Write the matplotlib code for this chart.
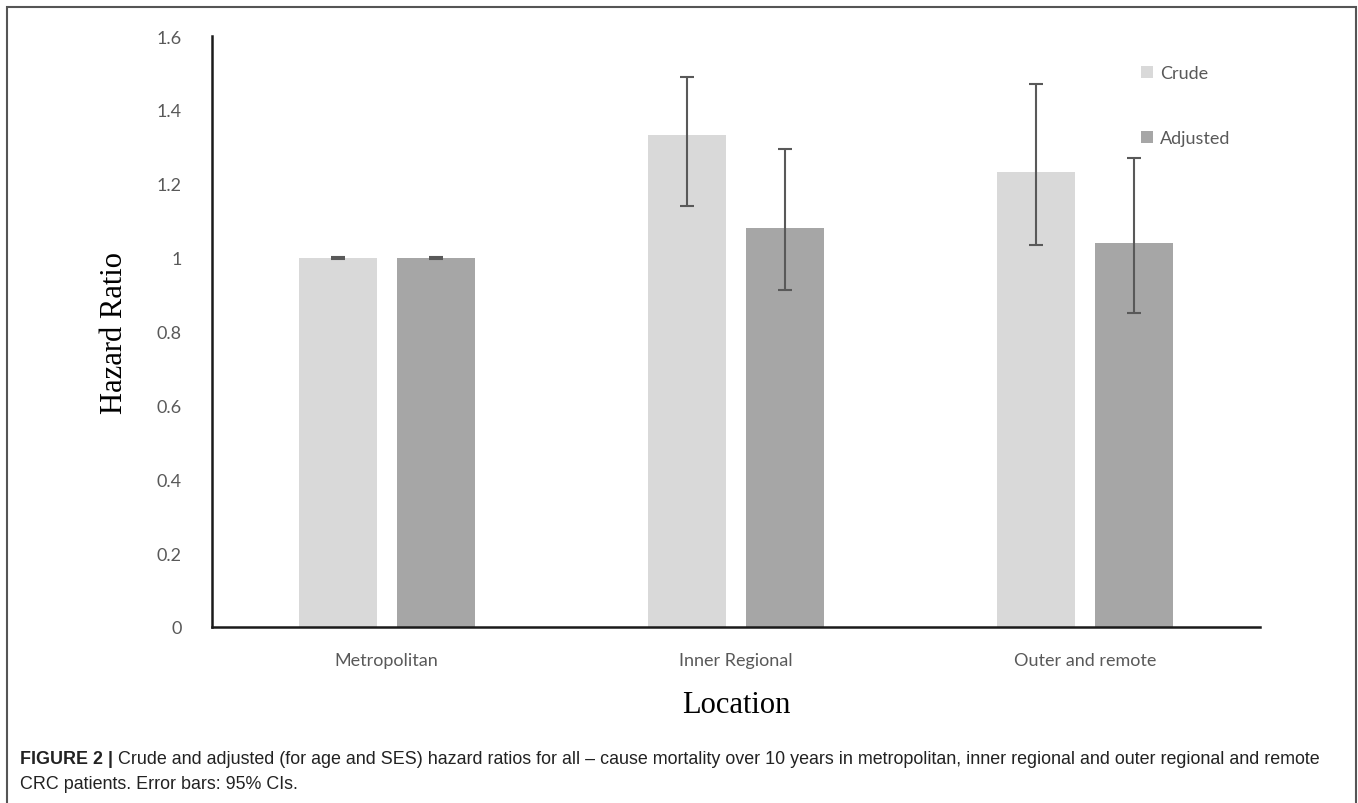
import matplotlib
matplotlib.use("Agg")
import matplotlib.pyplot as plt
import numpy as np
from matplotlib.patches import Rectangle

locations = ["Metropolitan", "Inner Regional", "Outer and remote"]
crude = [1.0, 1.333, 1.233]
crude_lo = [0.997, 1.14, 1.033]
crude_hi = [1.003, 1.49, 1.47]
adjusted = [1.0, 1.081, 1.04]
adj_lo = [0.997, 0.913, 0.85]
adj_hi = [1.003, 1.293, 1.27]

W, H = 1358, 804
fig = plt.figure(figsize=(W / 100, H / 100), dpi=100)
ax = fig.add_axes([212 / W, 1 - 628 / H, (1260 - 212) / W, (628 - 37) / H])

x = np.arange(len(locations))
bw = 0.223
off = 0.14
grey_txt = "#595959"
err_kw = dict(ecolor="#595959", elinewidth=1.5, capsize=5, capthick=1.5)

crude = np.array(crude)
adjusted = np.array(adjusted)
ax.bar(x - off, crude, bw, color="#d9d9d9", label="Crude",
       yerr=[crude - np.array(crude_lo), np.array(crude_hi) - crude], error_kw=err_kw)
ax.bar(x + off, adjusted, bw, color="#a6a6a6", label="Adjusted",
       yerr=[adjusted - np.array(adj_lo), np.array(adj_hi) - adjusted], error_kw=err_kw)

ax.set_xlim(-0.5, 2.5)
ax.set_ylim(0, 1.6)
ax.set_yticks(np.arange(0, 1.61, 0.2))
ax.set_yticklabels(["0", "0.2", "0.4", "0.6", "0.8", "1", "1.2", "1.4", "1.6"])
ax.set_xticks(x)
ax.set_xticklabels(locations)
for lab in ax.get_xticklabels() + ax.get_yticklabels():
    lab.set_fontfamily("Lato")
    lab.set_fontsize(13)
    lab.set_color(grey_txt)
ax.tick_params(length=0)
ax.tick_params(axis="x", pad=18)
ax.tick_params(axis="y", pad=22)
for s in ["top", "right"]:
    ax.spines[s].set_visible(False)
for s in ["left", "bottom"]:
    ax.spines[s].set_linewidth(1.8)
    ax.spines[s].set_color("#1a1a1a")

ax.set_xlabel("Location", family="Liberation Serif", fontsize=22, labelpad=16)
ax.set_ylabel("Hazard Ratio", family="Liberation Serif", fontsize=22, labelpad=20)

leg = ax.legend(loc="upper left", bbox_to_anchor=(1125 / W, 1 - 50 / H),
                bbox_transform=fig.transFigure, frameon=False,
                prop={"family": "Lato", "size": 13}, handlelength=0.65,
                handleheight=0.65, handletextpad=0.4, labelspacing=2.7)
for t in leg.get_texts():
    t.set_color(grey_txt)

# outer frame
fig.patches.append(Rectangle((7 / W, -0.02), (1356 - 7) / W, 1.02 - 8 / H,
                             transform=fig.transFigure, fill=False,
                             edgecolor="#555555", linewidth=1.5))

# caption
cap_font = "Liberation Sans"
cap_size = 12.9
renderer = fig.canvas.get_renderer()
y1 = 1 - 760 / H
y2 = 1 - 785 / H
b = fig.text(20 / W, y1, "FIGURE 2 | ", fontweight="bold", family=cap_font,
             fontsize=cap_size, va="center", color="#222222")
bb = b.get_window_extent(renderer)
fig.text(bb.x1 / W, y1,
         "Crude and adjusted (for age and SES) hazard ratios for all \u2013 cause mortality "
         "over 10 years in metropolitan, inner regional and outer regional and remote",
         family=cap_font, fontsize=cap_size, va="center", color="#222222")
fig.text(20 / W, y2, "CRC patients. Error bars: 95% CIs.", family=cap_font,
         fontsize=cap_size, va="center", color="#222222")

fig.savefig("out.png", dpi=100)
